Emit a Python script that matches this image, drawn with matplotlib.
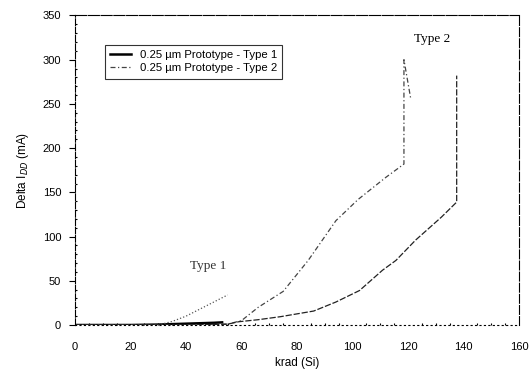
import matplotlib
matplotlib.use("Agg")
import matplotlib.pyplot as plt
from matplotlib.ticker import MultipleLocator

# Data
t1a_krad = [0, 10, 20, 30, 35, 40, 45, 50, 53]
t1a_delta = [0, 0, 0, 0.5, 1, 1.5, 2, 2.5, 3]
t1b_krad = [0, 20, 30, 35, 40, 45, 50, 55]
t1b_delta = [0, 0, 0, 4, 10, 18, 26, 34]

t2a_krad = [0, 40, 55, 60, 66, 75, 84, 94, 102, 112, 118.5, 118.5, 121]
t2a_delta = [0, 0, 1, 5, 20, 38, 73, 118, 142, 167, 182, 300, 255]
t2b_krad = [0, 40, 55, 59, 66, 74, 86, 94, 102.5, 110.8, 115.6, 122.7, 132, 137.5, 137.5]
t2b_delta = [0, 0, 1, 3.7, 6, 9.4, 15.8, 26, 39, 62, 73, 96, 122, 139, 282]

xticks = [0, 20, 40, 60, 80, 100, 120, 140, 160]
yticks = [0, 50, 100, 150, 200, 250, 300, 350]
labels = ["0.25 µm Prototype - Type 1", "0.25 µm Prototype - Type 2"]

plt.rcParams['font.family'] = ['Liberation Sans', 'DejaVu Sans']

fig = plt.figure(figsize=(5.30, 3.74), dpi=100)
ax = fig.add_axes([0.1415, 0.131, 0.838, 0.8276])

ax.plot(t1a_krad, t1a_delta, color='black', lw=1.8, ls='-', label=labels[0])
ax.plot(t1b_krad, t1b_delta, color='#555555', lw=0.9, ls=':')
ax.plot(t2a_krad, t2a_delta, color='#444444', lw=0.9, ls=(0, (4, 2, 1, 2)), label=labels[1])
ax.plot(t2b_krad, t2b_delta, color='#222222', lw=0.9, ls=(0, (5, 1.5)))

ax.set_xlim(0, 160)
ax.set_ylim(0, 350)
ax.set_xticks(xticks)
ax.set_yticks(yticks)
ax.xaxis.set_minor_locator(MultipleLocator(5))
ax.yaxis.set_minor_locator(MultipleLocator(10))
ax.tick_params(axis='both', which='major', labelsize=8, length=4, width=0.8, direction='out', pad=6)
ax.tick_params(axis='both', which='minor', length=1.5, width=0.8, direction='in')
ax.tick_params(axis='x', which='major', length=0, pad=12)

for s in ax.spines.values():
    s.set_linewidth(0.8)
ax.spines['left'].set_linestyle((0, (6, 1.5)))
ax.spines['bottom'].set_linestyle((0, (1, 3)))
ax.spines['top'].set_linestyle((0, (10, 1.5)))
ax.spines['right'].set_linestyle((0, (8, 2)))

ax.set_xlabel("krad (Si)", fontsize=8.5, labelpad=4)
ax.set_ylabel("Delta I$_{DD}$ (mA)", fontsize=8.5, labelpad=8)

leg = ax.legend(loc='upper left', bbox_to_anchor=(0.068, 0.905), fontsize=8.2,
                frameon=True, fancybox=False, edgecolor='black', handlelength=1.8,
                handletextpad=0.8, borderpad=0.45, labelspacing=0.3, borderaxespad=0)
leg.get_frame().set_linewidth(0.8)

ax.text(48, 67, "Type 1", family='Liberation Serif', fontsize=9.5, ha='center', va='center', color='#333333')
ax.text(128.7, 323, "Type 2", family='Liberation Serif', fontsize=9.5, ha='center', va='center')

fig.savefig("out.png", dpi=100)
